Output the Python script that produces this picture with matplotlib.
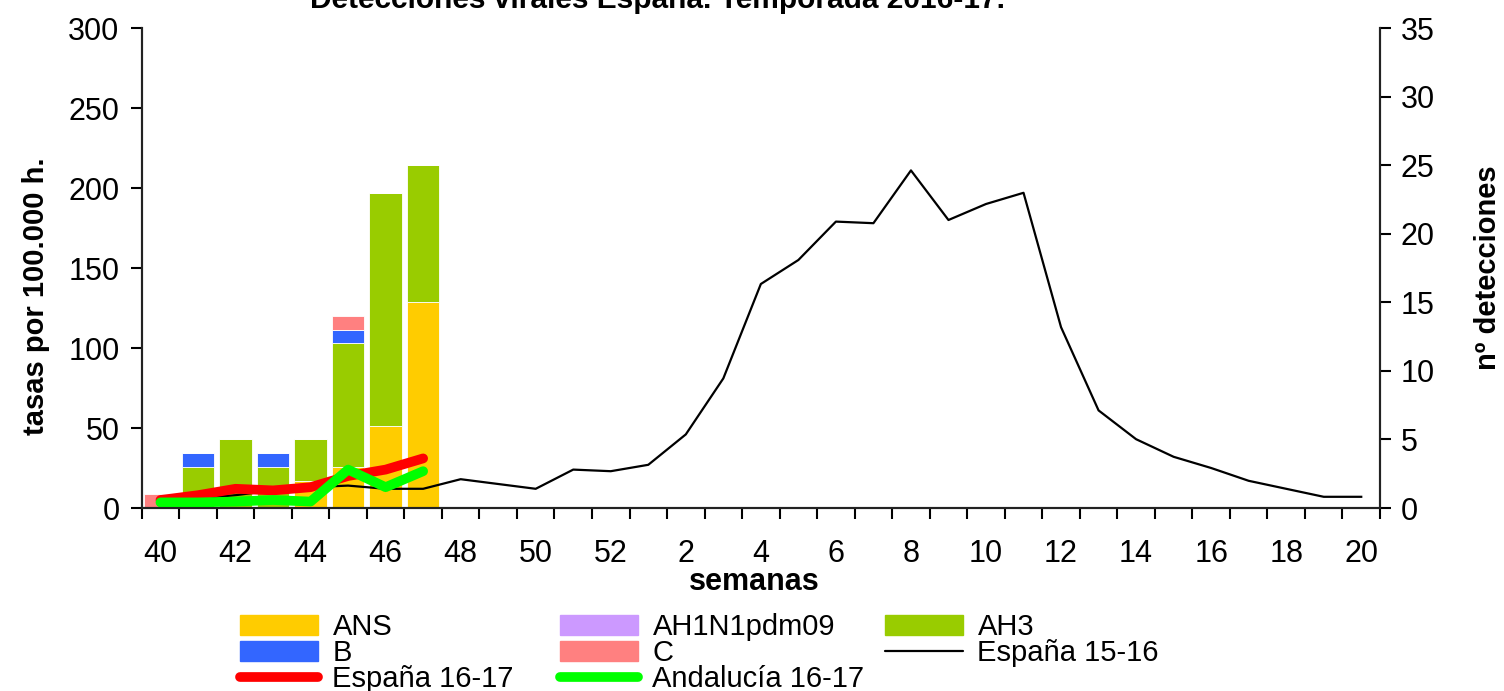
import numpy as np
import matplotlib
matplotlib.use("Agg")
import matplotlib.pyplot as plt
from matplotlib.patches import Patch
from matplotlib.lines import Line2D

plt.rcParams['font.family'] = ['Liberation Sans', 'DejaVu Sans']

# semanas (temporada 40 -> 20)
weeks = list(range(40, 53)) + list(range(1, 21))

# tasas por 100.000 h. (eje izquierdo)
espana_1516 = [4, 6, 8, 11, 13, 14, 12, 12, 18, 15, 12, 24, 23,
               27, 46, 81, 140, 155, 179, 178, 211, 180, 190, 197, 113,
               61, 43, 32, 25, 17, 12, 7, 7]
espana_1617 = [5, 8, 12, 11, 13, 20, 24, 31]
andalucia_1617 = [3.5, 3.5, 4, 5, 4, 24, 13, 23]

# nº detecciones (eje derecho), semanas 40-47
det_ans = [0, 0, 0, 0, 2, 3, 6, 15]
det_ah1n1 = [0, 0, 0, 0, 0, 0, 0, 0]
det_ah3 = [0, 3, 5, 3, 3, 9, 17, 10]
det_b = [0, 1, 0, 1, 0, 1, 0, 0]
det_c = [1, 0, 0, 0, 0, 1, 0, 0]

W, H = 1504, 691
fig = plt.figure(figsize=(W / 100, H / 100), dpi=100)
ax = fig.add_axes([141.7 / W, 1 - 508 / H, (1380 - 141.7) / W, (508 - 28) / H])
ax2 = ax.twinx()

x = np.arange(len(weeks)) + 0.5
xb = x[:len(det_ans)]

colors = {'ANS': '#ffcc00', 'AH1N1pdm09': '#cc99ff', 'AH3': '#99cc00',
          'B': '#3366ff', 'C': '#ff8080'}
bottom = np.zeros(len(xb))
for name, vals in [('ANS', det_ans), ('AH1N1pdm09', det_ah1n1), ('AH3', det_ah3),
                   ('B', det_b), ('C', det_c)]:
    vals = np.array(vals, dtype=float)
    ax2.bar(xb, vals, bottom=bottom, width=0.86, color=colors[name],
            edgecolor='white', linewidth=0.6)
    bottom += vals

# lineas encima de las barras
ax.set_zorder(ax2.get_zorder() + 1)
ax.patch.set_visible(False)
ax.plot(x, espana_1516, color='black', lw=1.6)
ax.plot(xb, espana_1617, color='#ff0000', lw=7, solid_capstyle='round')
ax.plot(xb, andalucia_1617, color='#00ff00', lw=7, solid_capstyle='round')

ax.set_xlim(0, len(weeks))
ax.set_ylim(0, 300)
ax2.set_ylim(0, 35)
ax.set_yticks(np.arange(0, 301, 50))
ax2.set_yticks(np.arange(0, 36, 5))

ax.set_xticks(np.arange(0, len(weeks) + 1))
ax.set_xticklabels([])
ax.set_xticks(x[::2], labels=[str(w) for w in weeks[::2]], minor=True)
ax.tick_params(axis='x', which='major', length=8, width=1.5, direction='out')
ax.tick_params(axis='x', which='minor', length=0, labelsize=22, pad=22)
ax.tick_params(axis='y', length=8, width=1.5, labelsize=22, pad=8)
ax2.tick_params(axis='y', length=8, width=1.5, labelsize=22, pad=7)

for a in (ax, ax2):
    a.spines['top'].set_visible(False)
    for s in ('left', 'right', 'bottom'):
        a.spines[s].set_linewidth(1.5)
        a.spines[s].set_color('#222222')

fig.text(658 / W, 1 - 8 / H, 'Detecciones virales España. Temporada 2016-17.',
         ha='center', va='baseline', fontsize=21.5, fontweight='bold')
fig.text(36 / W, 1 - 296 / H, 'tasas por 100.000 h.', rotation=90,
         ha='center', va='center', fontsize=21, fontweight='bold')
fig.text(1488 / W, 1 - 268 / H, 'nº detecciones', rotation=90,
         ha='center', va='center', fontsize=21, fontweight='bold')
fig.text(754 / W, 1 - 582 / H, 'semanas', ha='center', va='center',
         fontsize=22, fontweight='bold')


def column_legend(handles, labels, x_px):
    fig.legend(handles, labels, loc='upper left',
               bbox_to_anchor=(x_px / W, 1 - 613 / H), frameon=False,
               fontsize=21, handlelength=2.67, handleheight=0.7,
               handletextpad=0.5, labelspacing=-0.07, borderpad=0,
               borderaxespad=0)


def line_handle(c, lw):
    return Line2D([], [], color=c, lw=lw, solid_capstyle='round')


column_legend([Patch(color=colors['ANS']), Patch(color=colors['B']),
               line_handle('#ff0000', 7)],
              ['ANS', 'B', 'España 16-17'], 240)
column_legend([Patch(color=colors['AH1N1pdm09']), Patch(color=colors['C']),
               line_handle('#00ff00', 7)],
              ['AH1N1pdm09', 'C', 'Andalucía 16-17'], 560)
column_legend([Patch(color=colors['AH3']), line_handle('black', 1.6)],
              ['AH3', 'España 15-16'], 885)

fig.savefig('out.png', dpi=100)
